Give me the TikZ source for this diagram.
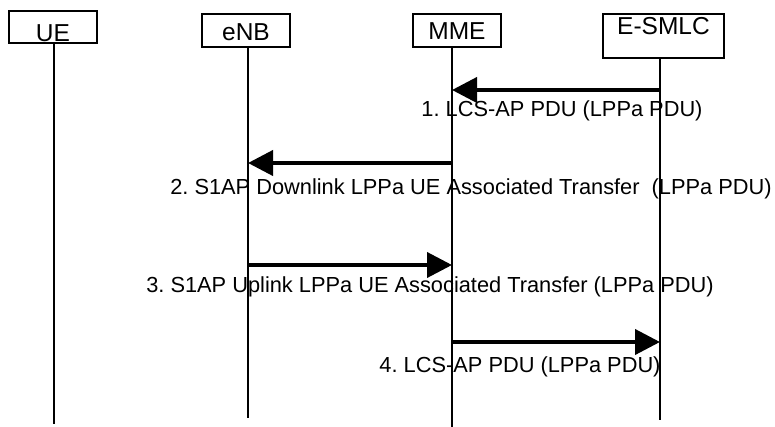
\documentclass[tikz,border=0pt]{standalone}
\usepackage{fontspec}
\setmainfont{Liberation Sans}
\usetikzlibrary{arrows.meta}
\frenchspacing

\begin{document}
\begin{tikzpicture}[x=1pt, y=-1pt, >={Triangle[length=25pt,width=25pt]},
    box/.style={draw, line width=1.5pt, inner sep=0pt, text depth=0pt, font=\fontsize{24.5}{29}\selectfont},
    lifeline/.style={line width=1.5pt},
    msg/.style={->, line width=4pt},
    msglabel/.style={anchor=base, inner sep=0pt, font=\fontsize{21.8}{26}\selectfont}]

	\useasboundingbox (0,0) rectangle (775,427);

	% entities
	\node[box, minimum width=88pt, minimum height=32pt, text height=30pt] (ue) at (53,27) {UE};
	\node[box, minimum width=88pt, minimum height=33pt, text height=21pt] (enb) at (246,30.5) {eNB};
	\node[box, minimum width=88pt, minimum height=33pt, text height=19pt] (mme) at (457,30.5) {MME};
	\node[box, minimum width=121pt, minimum height=44pt, text height=17.5pt, text depth=19.5pt] (esmlc) at (663.5,36) {E-SMLC};

	% lifelines
	\foreach \n/\x/\yend in {ue/54/424, enb/248/418, mme/452/427, esmlc/660/420}
		\coordinate (\n-end) at (\x,\yend);
	\foreach \n in {ue,enb,mme,esmlc}
		\draw[lifeline] (\n.south -| \n-end) -- (\n-end);

	% messages
	\coordinate (m1) at (0,90);
	\coordinate (m2) at (0,163);
	\coordinate (m3) at (0,265);
	\coordinate (m4) at (0,342);

	\draw[msg] (esmlc-end |- m1) -- (mme-end |- m1);
	\draw[msg] (mme-end |- m2) -- (enb-end |- m2);
	\draw[msg] (enb-end |- m3) -- (mme-end |- m3);
	\draw[msg] (mme-end |- m4) -- (esmlc-end |- m4);

	\node[msglabel] (l1) at (562,117) {1. LCS-AP PDU (LPPa PDU)};
	\node[msglabel] (l2) at (471,195) {2. S1AP Downlink LPPa UE Associated Transfer\ \ (LPPa PDU)};
	\node[msglabel] (l3) at (430,292) {3. S1AP Uplink LPPa UE Associated Transfer (LPPa PDU)};
	\node[msglabel] (l4) at (520,372) {4. LCS-AP PDU (LPPa PDU)};

\end{tikzpicture}
\end{document}
